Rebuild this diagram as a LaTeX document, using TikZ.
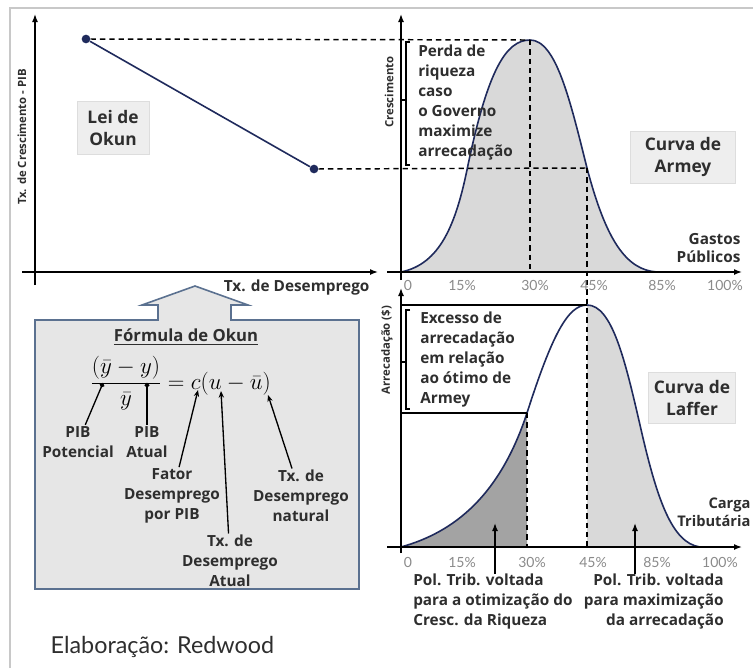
\documentclass[tikz,border=0pt]{standalone}
\usepackage{fontspec}
\setmainfont{Open Sans}
\newfontfamily\lightfont{Lato}
\usetikzlibrary{arrows.meta}
\definecolor{curveblue}{HTML}{1F2A5C}
\definecolor{lightfill}{HTML}{D9D9D9}
\definecolor{darkfill}{HTML}{A3A3A3}
\definecolor{boxfill}{HTML}{E6E6E6}
\definecolor{boxedge}{HTML}{5B7190}
\definecolor{tagfill}{HTML}{EEEEEE}
\definecolor{tagedge}{HTML}{DDDDDD}
\definecolor{textgray}{HTML}{2E2E2E}
\definecolor{tickgray}{HTML}{8A8A8A}
\definecolor{framegray}{HTML}{C8C8C8}
\tikzset{
  axis/.style={line width=1.1pt, -{Latex[length=6pt,width=4.5pt]}},
  curve/.style={draw=curveblue, line width=1.2pt},
  guide/.style={line width=1.1pt, dash pattern=on 4pt off 3pt},
  dot/.style={circle, fill=curveblue, inner sep=0pt, minimum size=6.5pt},
  lbl/.style={font=\bfseries\fontsize{11.5}{15}\selectfont, text=textgray, inner sep=1pt},
  axlbl/.style={font=\bfseries\fontsize{8.5}{10}\selectfont, text=textgray, inner sep=1pt},
  tagbox/.style={fill=tagfill, draw=tagedge, align=center, text=textgray,
    font=\bfseries\fontsize{13}{16.5}\selectfont},
  tick/.style={font=\lightfont\fontsize{10.5}{11}\selectfont, text=tickgray, inner sep=0pt},
  pointer/.style={line width=1pt, -{Stealth[length=5pt,width=4pt]}},
}
\begin{document}
\begin{tikzpicture}[x=0.75pt,y=-0.75pt]
\useasboundingbox (0,0) rectangle (753,668);
\draw[framegray, line width=1pt] (10,668) -- (10,8) -- (753,8);

\coordinate (okY0) at (35,285);
\coordinate (okY1) at (35,14);
\coordinate (okX0) at (22,272);
\coordinate (okX1) at (378,272);
\draw[axis] (okY0) -- (okY1);
\draw[axis] (okX0) -- (okX1);
\node[axlbl, rotate=90] (okYlbl) at (22,137) {Tx. de Crescimento - PIB};
\node[lbl, anchor=east] (okXlbl) at (371,288) {Tx. de Desemprego};
\node[tagbox, minimum width=54pt, minimum height=40pt] (lei) at (113,128) {Lei de\\Okun};

\fill[lightfill] (401,272) .. controls (440,264) and (456,225) .. (468,165)
  .. controls (488,70) and (506,40) .. (530,40)
  .. controls (556,40) and (570,100) .. (587,168)
  .. controls (606,240) and (626,270) .. (657,272) -- cycle;
\draw[curve] (401,272) .. controls (440,264) and (456,225) .. (468,165)
  .. controls (488,70) and (506,40) .. (530,40)
  .. controls (556,40) and (570,100) .. (587,168)
  .. controls (606,240) and (626,270) .. (657,272);

\fill[darkfill] (401,547) .. controls (455,532) and (500,495) .. (527,413) -- (527,547) -- cycle;
\fill[lightfill] (587,305) .. controls (612,305) and (625,360) .. (640,425)
  .. controls (657,500) and (672,543) .. (700,547) -- (587,547) -- cycle;
\draw[curve] (401,547) .. controls (455,532) and (500,495) .. (527,413)
  .. controls (552,335) and (568,305) .. (587,305)
  .. controls (612,305) and (625,360) .. (640,425)
  .. controls (657,500) and (672,543) .. (700,547);

\coordinate (armTop) at (530,40);
\coordinate (armMid) at (587,168);
\coordinate (armTopX) at (530,272);
\coordinate (lafMidX) at (587,547);
\node[dot] (okA) at (86,39) {};
\node[dot] (okB) at (314,169) {};
\draw[guide] (okA) -- (armTop);
\draw[guide] (okB) -- (armMid);
\draw[guide] (armTop) -- (armTopX);
\draw[guide] (armMid) -- (lafMidX);
\draw[curve] (okA) -- (okB);

\coordinate (arY0) at (401,280);
\coordinate (arY1) at (401,14);
\coordinate (arX0) at (387,272);
\coordinate (arX1) at (742,272);
\draw[axis] (arY0) -- (arY1);
\draw[axis] (arX0) -- (arX1);
\node[axlbl, rotate=90] (arYlbl) at (389,92) {Crescimento};
\draw[line width=0.8pt] (410,42) -- (406,42) -- (406,165) -- (410,165);
\draw[line width=0.8pt] (406,100) -- (402,100);
\node[lbl, anchor=north west, align=left, inner sep=0pt] (perda) at (418,45)
  {Perda de\\riqueza\\caso\\o Governo\\maximize\\arrecadação};
\node[tagbox, minimum width=79pt, minimum height=39pt] (armey) at (683,157) {Curva de\\Armey};
\node[lbl, anchor=east, align=right, font=\bfseries\fontsize{11.5}{13.5}\selectfont] (gastos) at (742,248) {Gastos\\Públicos};
\node[tick] (arT0) at (408,285) {0};
\node[tick] (arT1) at (462,285) {15\%};
\node[tick] (arT2) at (535,285) {30\%};
\node[tick] (arT3) at (594,285) {45\%};
\node[tick] (arT4) at (662,285) {85\%};
\node[tick] (arT5) at (725,285) {100\%};

\coordinate (lfY0) at (401,553);
\coordinate (lfY1) at (401,288);
\coordinate (lfX0) at (387,547);
\coordinate (lfX1) at (742,547);
\coordinate (lfPeak) at (587,305);
\coordinate (lfOpt) at (527,413);
\coordinate (lfOptX) at (527,547);
\coordinate (lfPeakY) at (401,305);
\coordinate (lfOptY) at (401,413);
\draw[axis] (lfY0) -- (lfY1);
\draw[axis] (lfX0) -- (lfX1);
\draw[line width=1pt] (lfPeakY) -- (lfPeak);
\draw[line width=1pt] (lfOptY) -- (lfOpt);
\draw[guide] (lfOpt) -- (lfOptX);
\node[axlbl, rotate=90] (lfYlbl) at (387,350) {Arrecadação (\$)};
\draw[line width=0.8pt] (410,310) -- (406,310) -- (406,409) -- (410,409);
\draw[line width=0.8pt] (406,362) -- (402,362);
\node[lbl, anchor=north west, align=left, inner sep=0pt] (excesso) at (420,312)
  {Excesso de\\arrecadação\\em relação\\ao ótimo de\\Armey};
\node[tagbox, minimum width=65pt, minimum height=38pt] (laffer) at (692,398) {Curva de\\Laffer};
\node[lbl, anchor=east, align=right, font=\bfseries\fontsize{11}{13.5}\selectfont] (carga) at (752,512) {Carga\\Tributária};
\node[tick] (lfT0) at (408,562) {0};
\node[tick] (lfT1) at (462,562) {15\%};
\node[tick] (lfT2) at (532,562) {30\%};
\node[tick] (lfT3) at (593,562) {45\%};
\node[tick] (lfT4) at (657,562) {85\%};
\node[tick] (lfT5) at (720,562) {100\%};
\node[lbl, anchor=north west, align=left, inner sep=0pt] (polL) at (413,574)
  {Pol. Trib. voltada\\para a otimização do\\Cresc. da Riqueza};
\node[lbl, anchor=north east, align=right, inner sep=0pt] (polR) at (724,574)
  {Pol. Trib. voltada\\para maximização\\da arrecadação};
\coordinate (upL) at (495,523);
\coordinate (upR) at (635,523);
\draw[line width=1.1pt, -{Latex[length=6pt,width=4.5pt]}] (upL |- polL.north) -- (upL);
\draw[line width=1.1pt, -{Latex[length=6pt,width=4.5pt]}] (upR |- polR.north) -- (upR);

\draw[boxedge, fill=boxfill, line width=1.2pt] (35,320) -- (158,320) -- (158,305) -- (142,305)
  -- (195,286) -- (248,305) -- (231,305) -- (231,320) -- (359,320) -- (359,589) -- (35,589) -- cycle;
\node[lbl, font=\bfseries\fontsize{12.5}{15}\selectfont] (formTitle) at (186,337) {\underline{Fórmula de Okun}};
\node[anchor=west, inner sep=0pt, font=\fontsize{17.5}{20}\selectfont] (formula) at (90,383)
  {$\displaystyle\frac{(\bar{y}-y)}{\bar{y}}=c(u-\bar{u})$};
\coordinate (fPot) at (103,383);
\coordinate (fAct) at (147,383);
\coordinate (fFat) at (198,390);
\coordinate (fAtu) at (221,391);
\coordinate (fNat) at (268,395);
\node[lbl, align=center] (pot) at (78,442) {PIB\\Potencial};
\node[lbl, align=center] (act) at (147,442) {PIB\\Atual};
\node[lbl, align=center] (fat) at (172,496) {Fator\\Desemprego\\por PIB};
\node[lbl, align=center] (atu) at (230,561) {Tx. de\\Desemprego\\Atual};
\node[lbl, align=center] (nat) at (301,496) {Tx. de\\Desemprego\\natural};
\draw[line width=1pt, -{Circle[length=3.5pt]}] (pot) -- (fPot);
\draw[line width=1pt, -{Circle[length=3.5pt]}] (act) -- (fAct);
\draw[pointer] (fat) -- (fFat);
\draw[pointer] (atu) -- (fAtu);
\draw[pointer] (nat) -- (fNat);

\node[anchor=west, font=\lightfont\fontsize{17.5}{20}\selectfont, text=textgray] (credit) at (46,647) {Elaboração: Redwood};
\end{tikzpicture}
\end{document}
